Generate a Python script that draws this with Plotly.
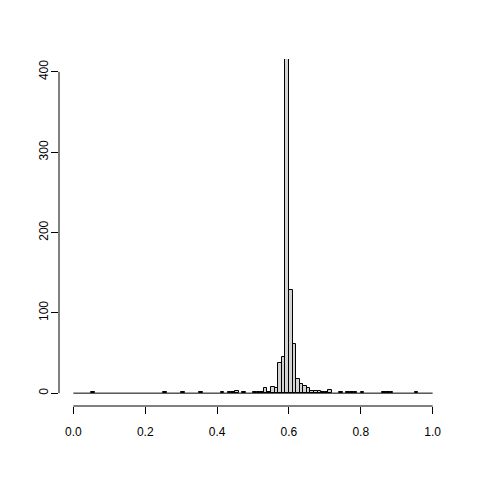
import plotly.graph_objects as go

# histogram bins (left edge of each 0.01-wide bin) with a non-zero count
bin_left = [0.05, 0.25, 0.30, 0.35, 0.41, 0.43, 0.44, 0.45, 0.47, 0.50,
            0.51, 0.52, 0.53, 0.54, 0.55, 0.56, 0.57, 0.58, 0.59, 0.60,
            0.61, 0.62, 0.63, 0.64, 0.65, 0.66, 0.67, 0.68, 0.69, 0.70,
            0.71, 0.74, 0.76, 0.77, 0.78, 0.80, 0.86, 0.87, 0.88, 0.95]
counts = [2, 1, 2, 1, 1, 1, 2, 3, 1, 1,
          1, 2, 7, 2, 8, 7, 37, 45, 600, 128,
          61, 18, 11, 9, 7, 3, 3, 3, 1, 1,
          4, 1, 1, 1, 1, 1, 2, 2, 2, 1]
bin_width = 0.01
break_min, break_max = 0.0, 1.0

x_ticks = [0.0, 0.2, 0.4, 0.6, 0.8, 1.0]
x_labels = ["0.0", "0.2", "0.4", "0.6", "0.8", "1.0"]
y_ticks = [0, 100, 200, 300, 400]
y_labels = ["0", "100", "200", "300", "400"]

centers = [b + bin_width / 2 for b in bin_left]

fig = go.Figure()
fig.add_trace(go.Bar(
    x=centers, y=counts, width=bin_width,
    marker=dict(color="#D3D3D3", line=dict(color="black", width=1)),
))

# empty bins are drawn by R as a flat line along zero
fig.add_shape(type="line", xref="x", yref="y",
              x0=break_min, x1=break_max, y0=0, y1=0,
              line=dict(color="black", width=1))
# R-style detached axis lines spanning only the tick range
fig.add_shape(type="line", xref="x", yref="paper",
              x0=x_ticks[0], x1=x_ticks[-1], y0=0, y1=0,
              line=dict(color="black", width=1))
fig.add_shape(type="line", xref="paper", yref="y",
              x0=0, x1=0, y0=y_ticks[0], y1=y_ticks[-1],
              line=dict(color="black", width=1))

# the page body adds an 8px offset, so margins are shifted to compensate
fig.update_layout(
    width=480, height=480,
    margin=dict(l=51, r=41, t=51, b=82, autoexpand=False),
    paper_bgcolor="white", plot_bgcolor="white",
    showlegend=False,
    bargap=0,
    font=dict(family="Liberation Sans, Arial, sans-serif", size=12, color="black"),
    xaxis=dict(range=[-0.04, 1.04], showgrid=False, zeroline=False, showline=False,
               tickvals=x_ticks, ticktext=x_labels, ticks="outside", automargin=False,
               ticklen=7, tickcolor="black", tickwidth=1, ticklabelstandoff=8),
    yaxis=dict(range=[-16, 416], showgrid=False, zeroline=False, showline=False,
               tickvals=y_ticks, ticktext=y_labels, ticks="outside", automargin=False,
               ticklen=7, tickcolor="black", tickwidth=1, tickangle=-90,
               ticklabelstandoff=-2),
)

fig.write_html("out.html")
